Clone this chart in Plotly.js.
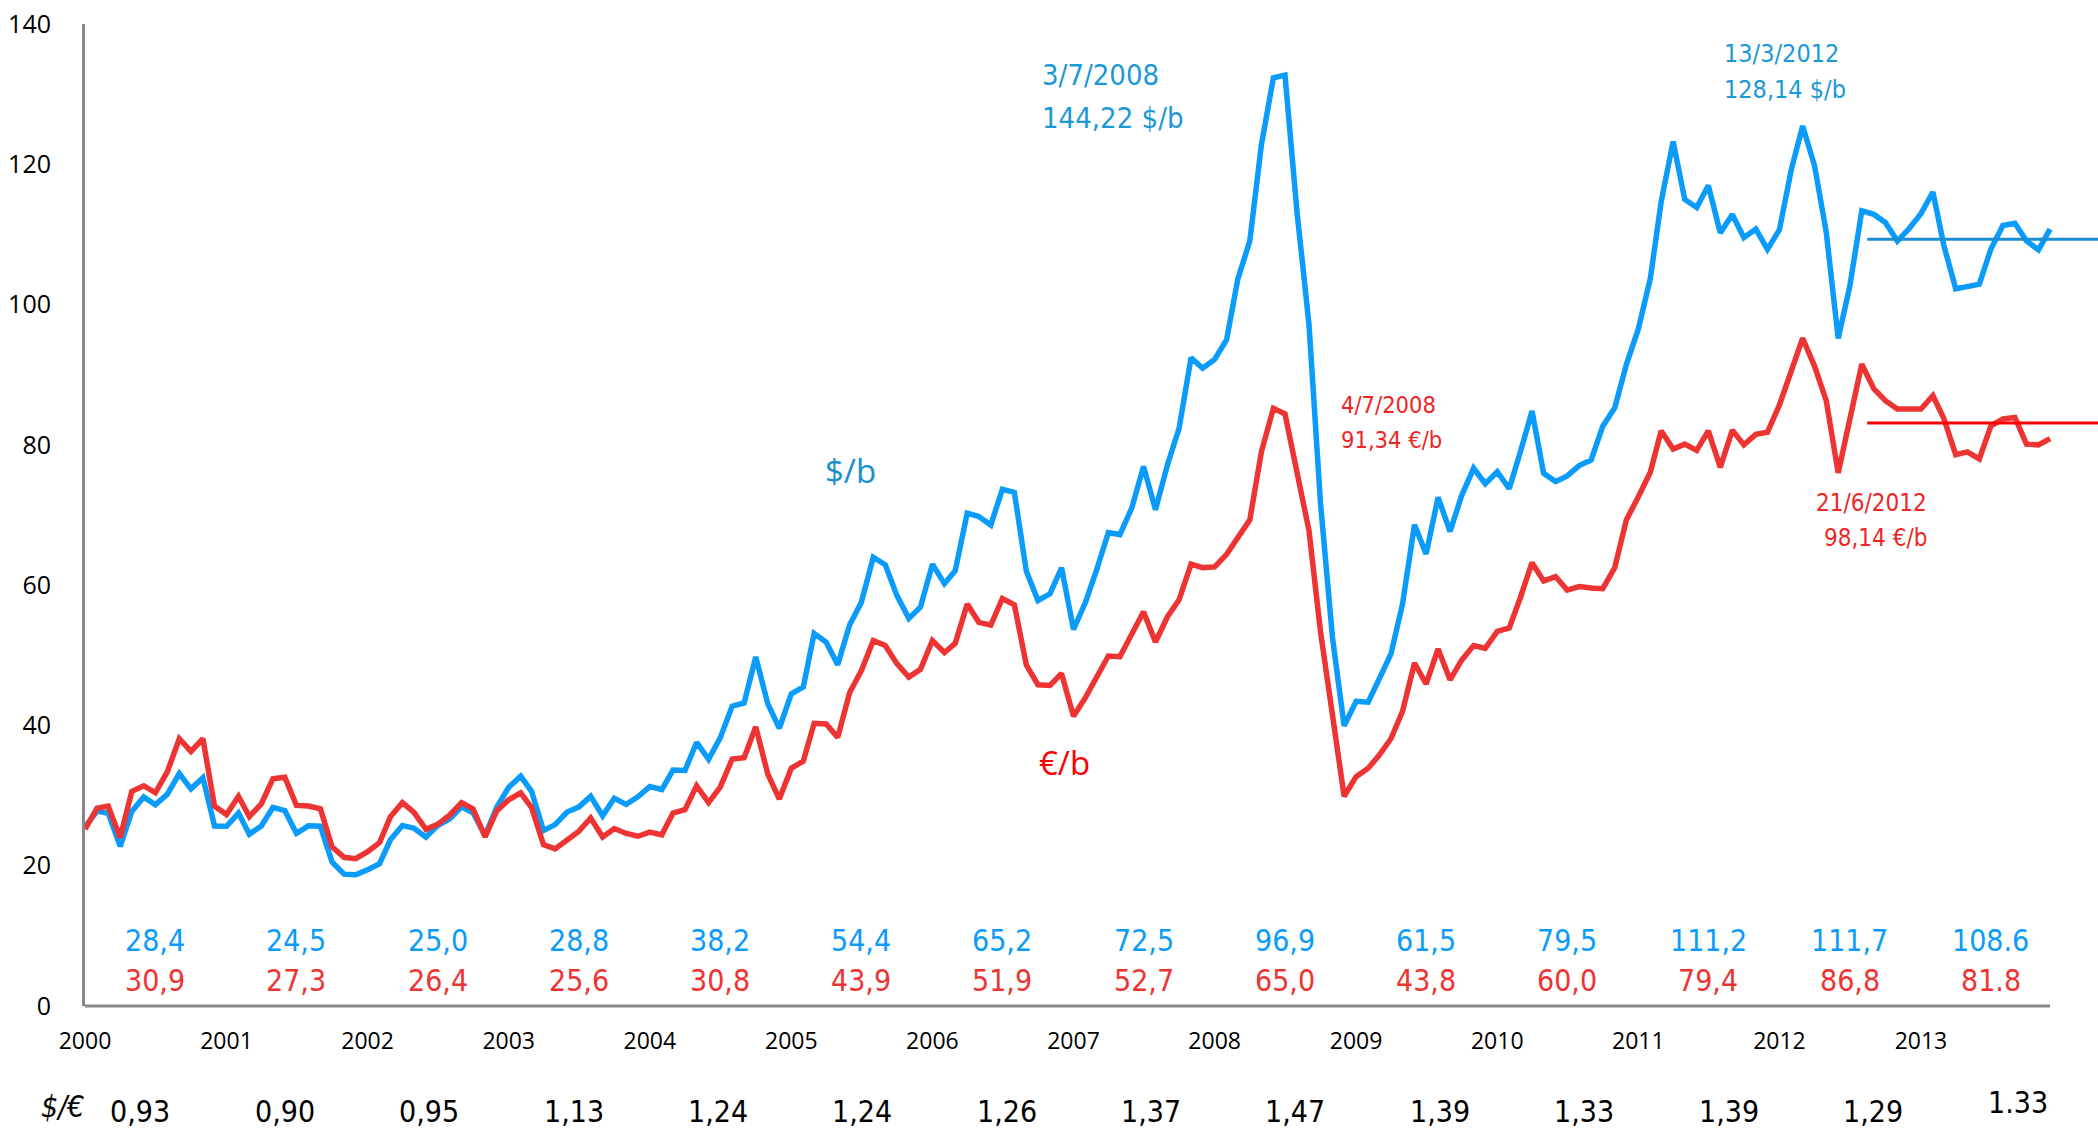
<!DOCTYPE html>
<html>
<head>
<meta charset="utf-8">
<script src="https://cdn.plot.ly/plotly-3.0.1.min.js"></script>
<style>
html,body{margin:0;padding:0;background:#ffffff;}
#chart{width:2098px;height:1134px;}
</style>
</head>
<body>
<div id="chart"></div>
<script>
// ---------------- DATA ----------------
const startYear = 2000;
const years = [2000, 2001, 2002, 2003, 2004, 2005, 2006, 2007, 2008, 2009, 2010, 2011, 2012, 2013];

// Monthly Brent price, $/b (Jan 2000 – Dec 2013)
const brentUsd = [
  25.51, 27.78, 27.49, 22.76, 27.74, 29.80, 28.68, 30.20, 33.14, 30.96, 32.55, 25.66,
  25.62, 27.50, 24.50, 25.66, 28.31, 27.85, 24.61, 25.68, 25.62, 20.54, 18.80, 18.71,
  19.42, 20.28, 23.70, 25.73, 25.35, 24.08, 25.74, 26.65, 28.40, 27.54, 24.34, 28.33,
  31.18, 32.77, 30.61, 25.00, 25.86, 27.65, 28.35, 29.89, 27.11, 29.61, 28.75, 29.81,
  31.28, 30.86, 33.63, 33.59, 37.57, 35.18, 38.22, 42.74, 43.20, 49.78, 43.11, 39.60,
  44.51, 45.48, 53.10, 51.88, 48.65, 54.35, 57.52, 63.98, 62.91, 58.54, 55.24, 56.86,
  62.99, 60.21, 62.06, 70.26, 69.78, 68.56, 73.67, 73.23, 61.96, 57.81, 58.76, 62.47,
  53.68, 57.56, 62.05, 67.49, 67.21, 71.05, 76.93, 70.76, 77.17, 82.34, 92.41, 90.93,
  92.18, 94.99, 103.64, 109.07, 122.80, 132.32, 132.72, 113.24, 97.23, 71.58, 52.45, 39.95,
  43.44, 43.32, 46.54, 50.18, 57.30, 68.61, 64.44, 72.51, 67.65, 72.77, 76.66, 74.46,
  76.17, 73.75, 78.83, 84.82, 75.95, 74.76, 75.58, 77.04, 77.84, 82.67, 85.28, 91.45,
  96.52, 103.72, 114.64, 123.26, 114.99, 113.83, 116.97, 110.22, 112.83, 109.55, 110.77, 107.87,
  110.69, 119.33, 125.45, 119.75, 110.34, 95.16, 102.62, 113.36, 112.86, 111.71, 109.06, 110.80,
  112.96, 116.05, 108.47, 102.25, 102.56, 102.92, 107.93, 111.28, 111.60, 109.08, 107.79, 110.76
];

// Monthly Brent price, €/b (Jan 2000 – Dec 2013)
const brentEur = [
  25.2, 28.2, 28.5, 24.0, 30.6, 31.4, 30.4, 33.4, 38.1, 36.3, 38.1, 28.5,
  27.3, 29.9, 27.0, 28.8, 32.4, 32.6, 28.6, 28.5, 28.1, 22.7, 21.2, 21.0,
  22.0, 23.3, 27.0, 29.0, 27.6, 25.2, 25.9, 27.2, 29.0, 28.1, 24.1, 27.8,
  29.4, 30.4, 28.3, 23.0, 22.4, 23.7, 24.9, 26.8, 24.1, 25.3, 24.6, 24.2,
  24.8, 24.4, 27.5, 28.0, 31.4, 29.0, 31.2, 35.2, 35.4, 39.8, 33.1, 29.5,
  33.9, 34.9, 40.3, 40.2, 38.3, 44.7, 47.8, 52.1, 51.4, 48.8, 46.9, 48.0,
  52.1, 50.4, 51.7, 57.3, 54.7, 54.3, 58.1, 57.2, 48.6, 45.8, 45.7, 47.4,
  41.3, 44.0, 46.9, 49.9, 49.8, 53.0, 56.2, 51.9, 55.5, 57.9, 63.0, 62.5,
  62.6, 64.4, 66.7, 69.3, 79.0, 85.2, 84.4, 75.7, 67.8, 53.3, 41.8, 29.9,
  32.7, 33.9, 35.7, 38.1, 42.0, 48.9, 45.9, 50.9, 46.5, 49.3, 51.4, 51.0,
  53.4, 53.9, 58.1, 63.2, 60.6, 61.2, 59.3, 59.8, 59.6, 59.5, 62.5, 69.3,
  72.6, 76.1, 82.0, 79.4, 80.1, 79.2, 82.0, 76.8, 82.1, 80.0, 81.5, 81.8,
  85.7, 90.4, 95.2, 91.2, 86.3, 76.0, 83.8, 91.5, 88.0, 86.3, 85.1, 85.1,
  85.1, 87.0, 83.8, 78.6, 79.0, 78.0, 82.7, 83.7, 83.9, 80.1, 80.0, 80.9
];

// Annual averages printed under the curves
const avgUsdLabels = ['28,4', '24,5', '25,0', '28,8', '38,2', '54,4', '65,2', '72,5', '96,9', '61,5', '79,5', '111,2', '111,7', '108.6'];
const avgEurLabels = ['30,9', '27,3', '26,4', '25,6', '30,8', '43,9', '51,9', '52,7', '65,0', '43,8', '60,0', '79,4', '86,8', '81.8'];

// $/€ exchange-rate row
const fxLabel = '$/€';
const fxLabels = ['0,93', '0,90', '0,95', '1,13', '1,24', '1,24', '1,26', '1,37', '1,47', '1,39', '1,33', '1,39', '1,29', '1.33'];

// Reference levels (horizontal lines at the right)
const refUsd = 109.3;
const refEur = 83.1;
const refStart = '2012-08-15';

// Callout texts (two lines each)
const noteUsd2008 = ['3/7/2008', '144,22 $/b'];
const noteUsd2012 = ['13/3/2012', '128,14 $/b'];
const noteEur2008 = ['4/7/2008', '91,34 €/b'];
const noteEur2012 = ['21/6/2012', '98,14 €/b'];
const seriesUsdName = '$/b';
const seriesEurName = '€/b';

// ---------------- STYLE ----------------
const blue = '#0a9bfb';
const red = '#ee3333';
const blueText = '#1b98d6';
const redText = '#ee2525';
const narrow = 'Liberation Sans Narrow, Arial Narrow, DejaVu Sans Condensed, sans-serif';
const sans = 'Open Sans, Segoe UI, sans-serif';

// ---------------- BUILD ----------------
const months = brentUsd.map((_, i) => {
  const y = startYear + Math.floor(i / 12);
  const m = (i % 12) + 1;
  return y + '-' + String(m).padStart(2, '0') + '-01';
});
const lastMonth = months[months.length - 1];

const traces = [
  {x: months, y: brentUsd, type: 'scatter', mode: 'lines', name: seriesUsdName,
   line: {color: blue, width: 5.5, shape: 'linear'}, hoverinfo: 'skip'},
  {x: months, y: brentEur, type: 'scatter', mode: 'lines', name: seriesEurName,
   line: {color: red, width: 5.5, shape: 'linear'}, hoverinfo: 'skip'},
  {x: [refStart, '2015-01-01'], y: [refUsd, refUsd], type: 'scatter', mode: 'lines',
   line: {color: '#1a8ed2', width: 3}, hoverinfo: 'skip'},
  {x: [refStart, '2015-01-01'], y: [refEur, refEur], type: 'scatter', mode: 'lines',
   line: {color: '#ff0000', width: 3}, hoverinfo: 'skip'}
];

const annotations = [];
years.forEach((yr, i) => {
  annotations.push({x: yr + '-07-01', y: 9.4, xref: 'x', yref: 'y', text: avgUsdLabels[i],
    showarrow: false, xanchor: 'center', yanchor: 'middle',
    font: {family: narrow, size: 30, color: blue}});
  annotations.push({x: yr + '-07-01', y: 3.6, xref: 'x', yref: 'y', text: avgEurLabels[i],
    showarrow: false, xanchor: 'center', yanchor: 'middle',
    font: {family: narrow, size: 30, color: red}});
});

// $/€ row: evenly spaced cells under the years
const dayMs = 86400000;
const t0 = Date.UTC(startYear, 0, 1);
fxLabels.forEach((lab, i) => {
  const t = t0 + (0.393 + 1.0227 * i) * 365.25 * dayMs;
  annotations.push({x: new Date(t).toISOString().slice(0, 10), y: -0.107, xref: 'x', yref: 'paper',
    text: lab, showarrow: false, xanchor: 'center', yanchor: 'middle',
    yshift: i === fxLabels.length - 1 ? 9 : 0,
    font: {family: narrow, size: 30, color: '#000000'}});
});
annotations.push({x: -0.0112, y: -0.102, xref: 'paper', yref: 'paper', text: '<i>' + fxLabel + '</i>',
  showarrow: false, xanchor: 'center', yanchor: 'middle',
  font: {family: narrow, size: 30, color: '#000000'}});

// callouts, one annotation per line
function callout(lines, x, ys, anchor, size, color) {
  lines.forEach((txt, k) => {
    annotations.push({x: x, y: ys[k], xref: 'paper', yref: 'paper', text: txt,
      showarrow: false, xanchor: anchor, yanchor: 'middle', align: anchor,
      font: {family: narrow, size: size, color: color}});
  });
}
callout(noteUsd2008, 0.4742, [0.9481, 0.9043], 'left', 29, blueText);
callout(noteUsd2012, 0.8133, [0.9695, 0.9328], 'left', 25, blueText);
callout(noteEur2008, 0.6231, [0.6120, 0.5764], 'left', 23.5, redText);
callout(noteEur2012, 0.9161, [0.5122, 0.4766], 'right', 24, redText);

annotations.push({x: 0.3803, y: 0.5458, xref: 'paper', yref: 'paper', text: seriesUsdName,
  showarrow: false, xanchor: 'center', yanchor: 'middle',
  font: {family: sans, size: 33, color: '#1a8fcb'}});
annotations.push({x: 0.4866, y: 0.2475, xref: 'paper', yref: 'paper', text: seriesEurName,
  showarrow: false, xanchor: 'center', yanchor: 'middle',
  font: {family: sans, size: 33, color: '#ff0000'}});

const layout = {
  width: 2098, height: 1134,
  margin: {l: 85, r: 0, t: 24, b: 128, pad: 0},
  paper_bgcolor: '#ffffff', plot_bgcolor: '#ffffff',
  showlegend: false,
  xaxis: {
    type: 'date', range: ['2000-01-01', '2014-04-04'],
    tickvals: years.map(y => y + '-01-01'), ticktext: years.map(String),
    showgrid: false, zeroline: false, showline: false, ticks: '',
    ticklabelstandoff: 19,
    tickfont: {family: sans, size: 23, color: '#000000'}
  },
  yaxis: {
    range: [0, 140], dtick: 20, tick0: 0,
    showgrid: false, zeroline: false, showline: true, linecolor: '#888888', linewidth: 3,
    ticks: '', ticklabelstandoff: 26,
    tickfont: {family: sans, size: 25, color: '#000000'}
  },
  shapes: [
    {type: 'line', xref: 'x', yref: 'paper', x0: months[0], x1: lastMonth, y0: 0, y1: 0,
     line: {color: '#888888', width: 3}}
  ],
  annotations: annotations
};

Plotly.newPlot('chart', traces, layout, {staticPlot: true, displayModeBar: false});
</script>
</body>
</html>
